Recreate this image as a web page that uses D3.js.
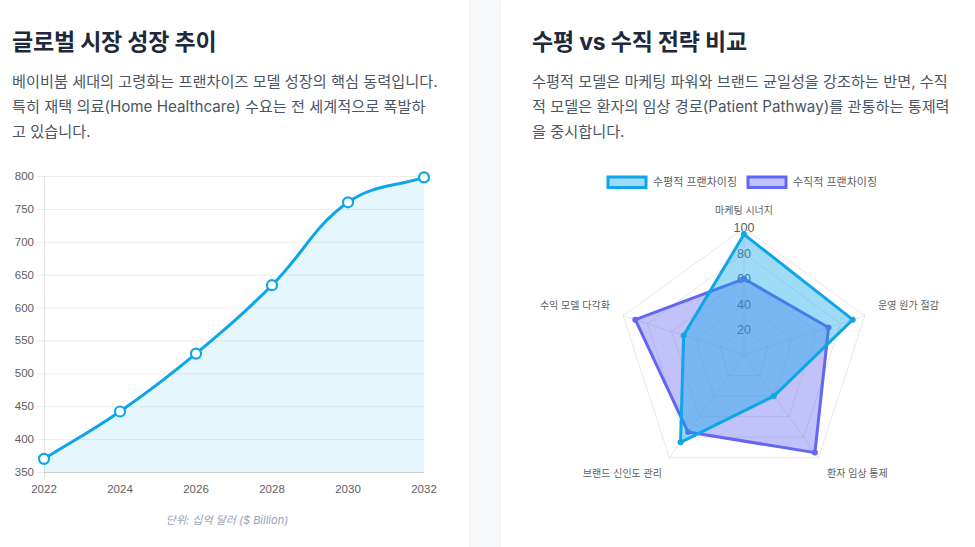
<!DOCTYPE html>
<html><head><meta charset="utf-8">
<script src="https://cdn.jsdelivr.net/npm/d3@7"></script>
<style>
html,body{margin:0;padding:0;}
body{width:975px;height:547px;overflow:hidden;background:#f7f8fa;position:relative;font-family:Inter,"Noto Sans CJK KR",sans-serif;}
.card{position:absolute;top:-12px;height:620px;background:#fff;border-radius:14px;box-shadow:0 1px 3px rgba(15,23,42,0.05);}
.title{position:absolute;font-size:23px;font-weight:700;color:#1e293b;white-space:nowrap;letter-spacing:-0.2px;}
.desc{position:absolute;font-size:15.2px;line-height:24.8px;color:#4b5563;white-space:nowrap;}
svg{position:absolute;left:0;top:0;}
</style></head>
<body>
<div class="card" style="left:-30px;width:499px;"></div>
<div class="card" style="left:501px;width:520px;"></div>
<div class="title" style="left:12px;top:23px;">글로벌 시장 성장 추이</div>
<div class="desc" style="left:12px;top:70px;">베이비붐 세대의 고령화는 프랜차이즈 모델 성장의 핵심 동력입니다.<br>특히 재택 의료(Home Healthcare) 수요는 전 세계적으로 폭발하<br>고 있습니다.</div>
<div class="title" style="left:532px;top:23px;">수평 vs 수직 전략 비교</div>
<div class="desc" style="left:532px;top:70px;">수평적 모델은 마케팅 파워와 브랜드 균일성을 강조하는 반면, 수직<br>적 모델은 환자의 임상 경로(Patient Pathway)를 관통하는 통제력<br>을 중시합니다.</div>
<svg id="chart" width="975" height="547"></svg>
<script>
// ---- data ----
const years = ["2022", "2024", "2026", "2028", "2030", "2032"];
const marketValues = [370, 442, 530, 634, 760, 798];
const yTicks = [350, 400, 450, 500, 550, 600, 650, 700, 750, 800];
const unitLabel = "단위: 십억 달러 ($ Billion)";

const radarAxes = ["마케팅 시너지", "운영 원가 절감", "환자 임상 통제", "브랜드 신인도 관리", "수익 모델 다각화"];
const horizontalScores = [95, 90, 40, 85, 50];
const verticalScores = [60, 70, 95, 75, 90];
const radarTicks = [20, 40, 60, 80, 100];
const seriesNames = ["수평적 프랜차이징", "수직적 프랜차이징"];

const svg = d3.select("#chart");
const tickFont = "'Liberation Sans', Arial, 'Noto Sans CJK KR', sans-serif";
const tickColor = "#5e5e5e";

// ---- line chart ----
const x = d3.scalePoint().domain(years).range([44, 424]);
const y = d3.scaleLinear().domain([350, 800]).range([472, 176]);
const g1 = svg.append("g");

g1.selectAll("line.grid").data(yTicks).join("line")
  .attr("x1", 37).attr("x2", 424)
  .attr("y1", d => y(d) + 0.5).attr("y2", d => y(d) + 0.5)
  .attr("stroke", "rgba(0,0,0,0.08)").attr("stroke-width", 1);
g1.append("line").attr("x1", 44.5).attr("x2", 44.5).attr("y1", y(800)).attr("y2", y(350) + 7)
  .attr("stroke", "rgba(0,0,0,0.1)");
g1.append("line").attr("x1", 44).attr("x2", 424).attr("y1", y(350) + 0.5).attr("y2", y(350) + 0.5)
  .attr("stroke", "rgba(0,0,0,0.12)");

g1.selectAll("text.yt").data(yTicks).join("text")
  .attr("x", 34).attr("y", d => y(d)).attr("dy", "0.35em")
  .attr("text-anchor", "end").attr("font-family", tickFont).attr("font-size", 11.5)
  .attr("fill", tickColor).text(d => d);
g1.selectAll("text.xt").data(years).join("text")
  .attr("x", d => x(d)).attr("y", 489).attr("dy", "0.35em")
  .attr("text-anchor", "middle").attr("font-family", tickFont).attr("font-size", 11.5)
  .attr("fill", tickColor).text(d => d);

const pts = years.map((yr, i) => [x(yr), y(marketValues[i])]);
function splinePath(p, t, close) {
  const cps = p.map((pt, i) => {
    const prev = p[i - 1] || pt, next = p[i + 1] || pt;
    const d01 = Math.hypot(pt[0] - prev[0], pt[1] - prev[1]);
    const d12 = Math.hypot(next[0] - pt[0], next[1] - pt[1]);
    let s01 = d01 / (d01 + d12), s12 = d12 / (d01 + d12);
    if (!isFinite(s01)) s01 = 0; if (!isFinite(s12)) s12 = 0;
    const fa = t * s01, fb = t * s12;
    return {
      p: [pt[0] - fa * (next[0] - prev[0]), pt[1] - fa * (next[1] - prev[1])],
      n: [pt[0] + fb * (next[0] - prev[0]), pt[1] + fb * (next[1] - prev[1])]
    };
  });
  const path = d3.path();
  path.moveTo(p[0][0], p[0][1]);
  for (let i = 1; i < p.length; i++) {
    path.bezierCurveTo(cps[i - 1].n[0], cps[i - 1].n[1], cps[i].p[0], cps[i].p[1], p[i][0], p[i][1]);
  }
  if (close) {
    path.lineTo(p[p.length - 1][0], y(350));
    path.lineTo(p[0][0], y(350));
    path.closePath();
  }
  return path.toString();
}
g1.append("path").attr("d", splinePath(pts, 0.4, true)).attr("fill", "rgba(14,165,233,0.1)");
g1.append("path").attr("d", splinePath(pts, 0.4, false)).attr("fill", "none")
  .attr("stroke", "#0ea5e9").attr("stroke-width", 3);
g1.selectAll("circle").data(pts).join("circle")
  .attr("cx", d => d[0]).attr("cy", d => d[1]).attr("r", 5)
  .attr("fill", "#fff").attr("stroke", "#0ea5e9").attr("stroke-width", 2.2);
g1.append("text").attr("x", 227).attr("y", 520).attr("dy", "0.35em").attr("text-anchor", "middle")
  .attr("font-size", 11).attr("font-style", "italic").attr("fill", "#94a3b8")
  .attr("font-family", "Inter,'Noto Sans CJK KR',sans-serif").text(unitLabel);

// ---- radar chart ----
const cx = 744, cy = 355, R = 127;
const r = d3.scaleLinear().domain([0, 100]).range([0, R]);
const n = radarAxes.length;
const ang = i => -Math.PI / 2 + i * 2 * Math.PI / n;
const pt = (i, v) => [cx + r(v) * Math.cos(ang(i)), cy + r(v) * Math.sin(ang(i))];
const g2 = svg.append("g");

radarTicks.forEach(t => {
  g2.append("polygon").attr("points", radarAxes.map((a, i) => pt(i, t).join(",")).join(" "))
    .attr("fill", "none").attr("stroke", "rgba(0,0,0,0.09)").attr("stroke-width", 1);
});
radarAxes.forEach((a, i) => {
  const e = pt(i, 100);
  g2.append("line").attr("x1", cx).attr("y1", cy).attr("x2", e[0]).attr("y2", e[1])
    .attr("stroke", "rgba(0,0,0,0.09)");
});
g2.selectAll("text.rt").data(radarTicks).join("text")
  .attr("x", cx).attr("y", d => cy - r(d)).attr("dy", "0.35em").attr("text-anchor", "middle")
  .attr("font-family", tickFont).attr("font-size", 12.5).attr("fill", tickColor).text(d => d);

const series = [
  { name: seriesNames[1], vals: verticalScores, stroke: "#6366f1", fill: "rgba(99,102,241,0.4)" },
  { name: seriesNames[0], vals: horizontalScores, stroke: "#0ea5e9", fill: "rgba(14,165,233,0.4)" }
];
series.forEach(s => {
  const ps = s.vals.map((v, i) => pt(i, v));
  g2.append("polygon").attr("points", ps.map(p => p.join(",")).join(" "))
    .attr("fill", s.fill).attr("stroke", s.stroke).attr("stroke-width", 3).attr("stroke-linejoin", "round");
  g2.selectAll(null).data(ps).join("circle").attr("cx", d => d[0]).attr("cy", d => d[1])
    .attr("r", 3).attr("fill", s.stroke);
});

radarAxes.forEach((a, i) => {
  const lr = R + 14;
  const c = Math.cos(ang(i)), sn = Math.sin(ang(i));
  let lx = cx + lr * c, ly = cy + lr * sn;
  let anchor = Math.abs(c) < 0.1 ? "middle" : (c > 0 ? "start" : "end");
  if (i === 0) ly = 210;
  else if (sn < 0) ly -= 6;
  else ly = 473;
  if (i === 2) { anchor = "start"; lx = 827; }
  if (i === 3) { anchor = "end"; lx = 662; }
  g2.append("text").attr("x", lx).attr("y", ly).attr("dy", "0.35em").attr("text-anchor", anchor)
    .attr("font-family", tickFont).attr("font-size", 10).attr("fill", tickColor).text(a);
});

// legend
const legendData = [
  { name: seriesNames[0], stroke: "#0ea5e9", fill: "rgba(14,165,233,0.4)", x: 608 },
  { name: seriesNames[1], stroke: "#6366f1", fill: "rgba(99,102,241,0.4)", x: 748 }
];
legendData.forEach(l => {
  g2.append("rect").attr("x", l.x).attr("y", 177).attr("width", 38).attr("height", 10.5)
    .attr("fill", l.fill).attr("stroke", l.stroke).attr("stroke-width", 3);
  g2.append("text").attr("x", l.x + 45).attr("y", 182).attr("dy", "0.35em")
    .attr("font-family", tickFont).attr("font-size", 11).attr("fill", tickColor).text(l.name);
});
</script>
</body></html>
